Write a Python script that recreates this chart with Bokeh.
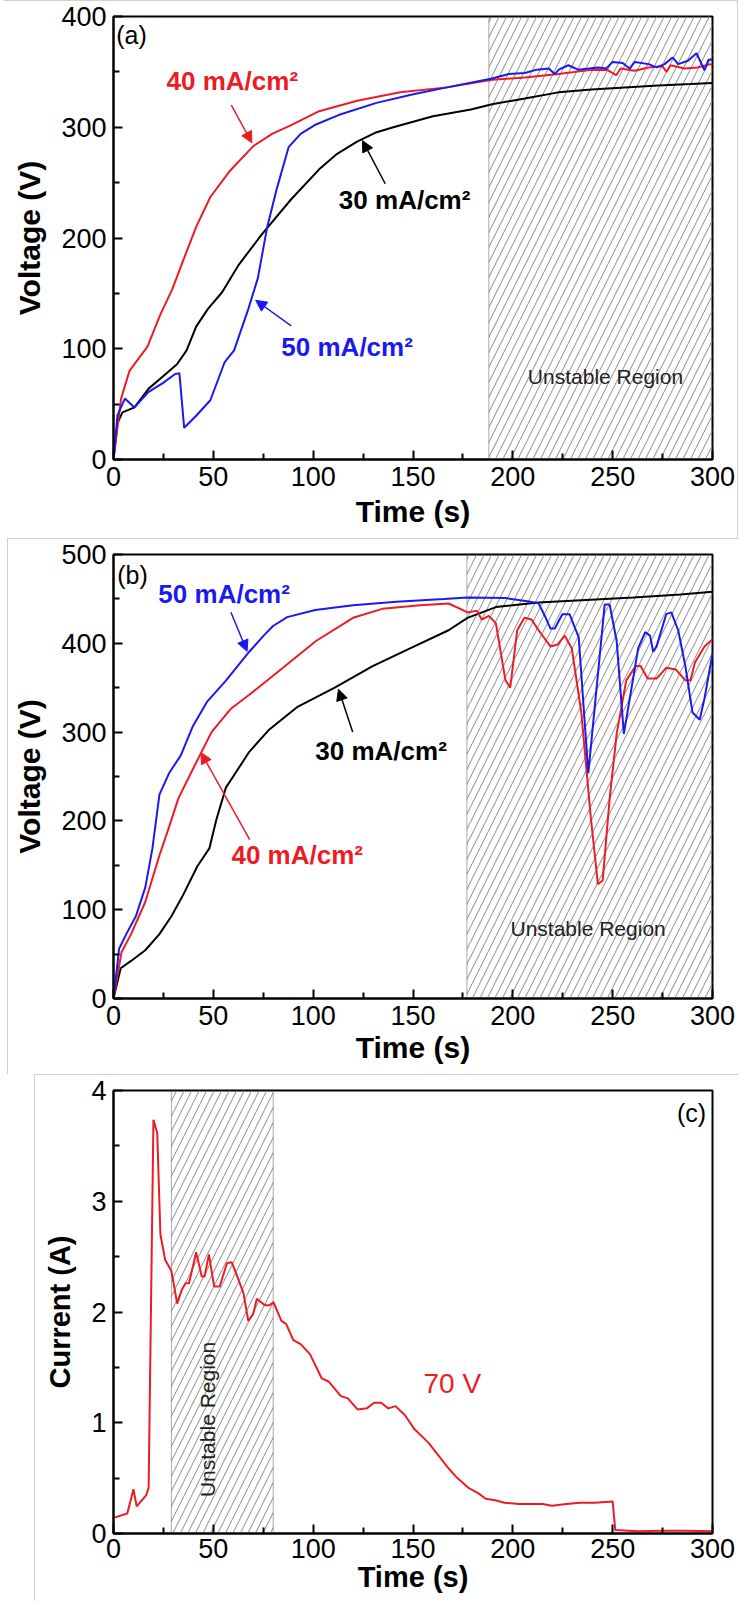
from bokeh.plotting import figure
from bokeh.models import Range1d, FixedTicker, BoxAnnotation, Arrow, NormalHead, Label, Span
from bokeh.layouts import column
from bokeh.embed import file_html
from bokeh.resources import INLINE

# ---------------- data: panel (a) ----------------
a_t_40 = [0, 3.8, 8, 17, 23.5, 29.5, 35.4, 41.4, 48.5, 58, 70, 79.4, 89, 103, 122, 143.6, 167, 189.6,
          206, 222.8, 239.4, 247, 251.8, 254, 261, 268, 275, 277, 279, 286, 292.5, 299, 300]
a_v_40 = [0, 55, 80, 102, 131, 154, 182, 210, 237, 260, 283, 294, 302, 314.5, 324, 331.6, 336, 342.8,
          345, 348, 351.8, 352, 347, 353, 351, 354, 355, 350, 356, 353, 354, 357, 356]
a_t_50 = [0, 2, 5.7, 10.5, 17.6, 24.7, 30.7, 33, 35.4, 41.4, 48.5, 55.6, 60.4, 67.5, 72.3, 77, 81.8,
          87.7, 93.7, 100.8, 112.7, 131.7, 150.7, 167, 189.6, 198, 206, 212, 218, 221, 223, 227.8,
          232.7, 242.7, 246.8, 250, 255, 258.5, 261, 268, 272, 276, 280, 282.8, 287.7, 292, 296, 298, 300]
a_v_50 = [0, 40, 55, 47, 61, 69, 77, 78, 28.6, 39.5, 53.5, 87.6, 98.5, 135.8, 163.8, 210, 244.6,
          282, 294, 302, 311, 322, 330, 336, 344, 348, 349, 352, 353, 348, 352, 356,
          352, 354, 353, 359, 358, 353, 359, 357, 354, 357, 363, 357, 360, 366.8, 351.5, 361, 361]
a_t_30 = [0, 2, 4.5, 10.5, 17.6, 24.7, 31.8, 36.6, 41.4, 47.3, 54.4, 62.8, 74.6, 89, 103, 112, 122,
          131, 141, 160, 179, 189.6, 206, 222.8, 239.4, 256, 272.6, 289, 300]
a_v_30 = [0, 33, 42.6, 47, 64, 75, 86, 98.5, 120, 136, 151, 176, 204, 235, 262, 276, 287,
          295, 300.5, 310, 316, 320.8, 326, 331.5, 334, 336, 337.6, 339, 340]

# ---------------- data: panel (b) ----------------
b_t_50 = [0, 2.8, 6.4, 11.2, 15.9, 19.5, 23, 27.8, 33.7, 39.6, 46.8, 56.3, 68, 75.2, 79.9, 87, 101,
          120, 141.7, 165.4, 177.3, 196.3, 208, 212.9, 216.5, 218.8, 221, 224.8, 228.4, 233, 237.8,
          246, 248.5, 252, 255.6, 262.8, 266.3, 268.7, 270.3, 272, 276.8, 279.4, 282.8, 286.4, 290,
          293.6, 296, 300]
b_v_50 = [0, 56, 72.5, 92.6, 124.8, 169, 229.5, 253.6, 273.8, 306, 334, 358, 390.5, 408.6, 419.5,
          429.5, 437.6, 442.8, 446.9, 450, 451.7, 451, 447, 445, 428.7, 416.7, 416.7, 432.8, 432.8,
          406.6, 253.6, 443.6, 443.6, 402.6, 298, 394.5, 412.6, 408.6, 390.5, 396.5, 432.8, 434.8,
          414.7, 374.4, 322, 314, 338, 388.5]
b_t_40 = [0, 4, 8.8, 15.9, 23, 27.8, 32.5, 39.6, 49.1, 58.6, 68, 82.4, 101.4, 120, 134.6, 153.6,
          167.8, 173.7, 177.3, 182, 184.4, 188, 191.5, 196.3, 198.7, 202.2, 205.8, 209.4, 212.9,
          218.8, 222.4, 226, 229.5, 234.3, 239, 242.6, 245, 248.5, 252, 256.8, 261.6, 264, 267.5,
          272, 276.8, 281.7, 286.4, 289, 291.2, 296, 300]
b_v_40 = [0, 52, 72.5, 108.7, 161, 193, 225.4, 257.6, 300, 326, 342, 368, 402.6, 428.7, 438.8, 442.8,
          444.8, 438.8, 434.8, 436.8, 426.7, 430.8, 422.7, 358.3, 350, 414.7, 428.7, 426.7, 414.7,
          396.5, 398.6, 408.6, 394.5, 322, 205, 128.8, 132.9, 225.4, 298, 358.3, 374.4, 374.4, 360.3,
          360.3, 372.4, 370.4, 358.3, 358.3, 378.4, 396.5, 404.6]
b_t_30 = [0, 3.6, 8.8, 15.9, 23, 29, 34.9, 42, 48, 51.5, 56.3, 61, 68, 77.6, 91.9, 110.8, 129.8,
          148.8, 167.8, 177.3, 191.5, 212.9, 236.6, 260.4, 284, 300]
b_v_30 = [0, 34, 42.3, 54.3, 72.5, 92.6, 116.7, 149, 169, 201.3, 237.5, 253.6, 277.8, 302, 328,
          350, 374.4, 394.5, 414.7, 428.7, 440.8, 446, 448.9, 451.7, 455, 458]

# ---------------- data: panel (c) ----------------
c_t = [0, 6.9, 10, 11.6, 16.4, 17.6, 20, 21.9, 23.5, 25.9, 29, 31.9, 34.2, 36.1, 37.8, 41.4, 44.2,
       45.6, 47.8, 50.4, 53.2, 56.8, 59.2, 61.6, 65.1, 67.5, 69.9, 71.8, 75.8, 78.2, 80.1, 84.1, 86.5,
       90.1, 93.7, 98.4, 104.3, 107.9, 113.9, 117.4, 122.2, 126.9, 130.5, 134, 137.6, 141.2, 145.9,
       150.7, 157.8, 167.3, 172.1, 178, 182.8, 186.4, 191.1, 195.9, 203, 214.9, 219.6, 226.8,
       233.9, 241, 250, 251.3, 262.4, 274.3, 286.2, 300]
c_i = [0.141, 0.18, 0.40, 0.245, 0.346, 0.415, 3.735, 3.616, 2.70, 2.47, 2.37, 2.075, 2.20, 2.26,
       2.26, 2.54, 2.32, 2.32, 2.52, 2.23, 2.23, 2.44, 2.45, 2.34, 2.17, 1.92, 1.98, 2.12, 2.06,
       2.06, 2.09, 1.92, 1.89, 1.745, 1.71, 1.62, 1.40, 1.37, 1.24, 1.22, 1.12, 1.13, 1.18, 1.18,
       1.13, 1.15, 1.07, 0.943, 0.818, 0.60, 0.503, 0.409, 0.362, 0.314, 0.30, 0.277, 0.267, 0.267,
       0.25, 0.267, 0.277, 0.277, 0.29, 0.031, 0.02, 0.025, 0.025, 0.02]

x_ticks = [0, 50, 100, 150, 200, 250, 300]
x_minor = [25, 75, 125, 175, 225, 275]

RED = "#ec1c24"
BLUE = "#1a1aee"
BLACK = "#000000"
FONT = "Liberation Sans"
GRAY_LINE = "#d0d0d0"


def frame_lines(lines):
    """CSS background lines (x, y, w, h) drawn behind the transparent figure border."""
    grads = ", ".join(["linear-gradient(%s,%s)" % (GRAY_LINE, GRAY_LINE)] * len(lines))
    sizes = ", ".join("%dpx %dpx" % (w, h) for (x, y, w, h) in lines)
    poss = ", ".join("%dpx %dpx" % (x, y) for (x, y, w, h) in lines)
    return {"background-image": grads, "background-size": sizes,
            "background-position": poss, "background-repeat": "no-repeat"}


def make_fig(height, ymax, yticks, yminor, borders, ylabel, xstand, ystand, title_size="30px"):
    l, r, t, b = borders
    p = figure(width=740, height=height, output_backend="svg", toolbar_location=None,
               x_range=Range1d(0, 300), y_range=Range1d(0, ymax), title=None,
               min_border_left=l, min_border_right=r, min_border_top=t, min_border_bottom=b)
    p.border_fill_color = None
    p.background_fill_color = "white"
    p.grid.visible = False
    p.outline_line_color = "black"
    p.outline_line_width = 2
    p.xaxis.ticker = FixedTicker(ticks=x_ticks, minor_ticks=x_minor)
    p.yaxis.ticker = FixedTicker(ticks=yticks, minor_ticks=yminor)
    p.xaxis.axis_label = "Time (s)"
    p.yaxis.axis_label = ylabel
    p.xaxis.axis_label_standoff = xstand
    p.yaxis.axis_label_standoff = ystand
    for ax in (p.xaxis[0], p.yaxis[0]):
        ax.axis_line_width = 2
        ax.major_tick_in = 9
        ax.major_tick_out = 0
        ax.minor_tick_in = 6
        ax.minor_tick_out = 0
        ax.major_tick_line_width = 2
        ax.minor_tick_line_width = 2
        ax.major_label_text_font = FONT
        ax.major_label_text_font_size = "27px"
        ax.major_label_text_color = "black"
        ax.major_label_standoff = 7
        ax.axis_label_text_font = FONT
        ax.axis_label_text_font_size = title_size
        ax.axis_label_text_font_style = "bold"
        ax.axis_label_text_color = "black"
    return p


def hatch(p, left, right):
    p.add_layout(BoxAnnotation(left=left, right=right, fill_color=None, line_color=None,
                               hatch_pattern="/", hatch_color="#8a8a8a", hatch_scale=15,
                               hatch_weight=1, level="underlay"))
    p.add_layout(Span(location=left, dimension="height", line_color="#555555",
                      line_dash="1 1", line_width=1, level="underlay"))


def label(p, x, y, text, size, color="black", bold=False, angle=0.0):
    p.add_layout(Label(x=x, y=y, text=text, text_font=FONT, text_font_size=size,
                       text_color=color, text_font_style="bold" if bold else "normal",
                       text_align="center", text_baseline="middle", angle=angle))


def arrow(p, x0, y0, x1, y1, color):
    p.add_layout(Arrow(x_start=x0, y_start=y0, x_end=x1, y_end=y1, line_color=color,
                       line_width=1.5,
                       end=NormalHead(size=11, fill_color=color, line_color=color, line_width=1)))


# ---------------- panel (a) ----------------
pa = make_fig(538, 400, [0, 100, 200, 300, 400], [50, 150, 250, 350], (109, 28, 16, 79),
              "Voltage (V)", 6, 12)
pa.styles = frame_lines([(4, 0, 734, 1), (737, 0, 1, 538)])
hatch(pa, 188, 300)
pa.line(a_t_30, a_v_30, line_color=BLACK, line_width=2)
pa.line(a_t_40, a_v_40, line_color=RED, line_width=2)
pa.line(a_t_50, a_v_50, line_color=BLUE, line_width=2)
label(pa, 9, 383, "(a)", "25px")
label(pa, 59.5, 342, "40 mA/cm²", "26px", RED, True)
arrow(pa, 59, 320, 69.3, 286, RED)
label(pa, 145.8, 234.7, "30 mA/cm²", "26px", BLACK, True)
arrow(pa, 136.1, 249, 124.7, 287.9, BLACK)
label(pa, 117, 101.7, "50 mA/cm²", "26px", BLUE, True)
arrow(pa, 89, 120.6, 71.2, 143.8, BLUE)
label(pa, 246.4, 74.6, "Unstable Region", "21px", "#222222")

# ---------------- panel (b) ----------------
pb = make_fig(536, 500, [0, 100, 200, 300, 400, 500], [50, 150, 250, 350, 450], (113, 24, 16, 76),
              "Voltage (V)", 3, 12)
pb.styles = frame_lines([(7, 0, 731, 1), (7, 0, 1, 536)])
hatch(pb, 177, 300)
pb.line(b_t_30, b_v_30, line_color=BLACK, line_width=2)
pb.line(b_t_40, b_v_40, line_color=RED, line_width=2)
pb.line(b_t_50, b_v_50, line_color=BLUE, line_width=2)
label(pb, 9.5, 477, "(b)", "25px")
label(pb, 55.4, 455, "50 mA/cm²", "26px", BLUE, True)
arrow(pb, 58.8, 435, 66.9, 391, BLUE)
label(pb, 134, 279, "30 mA/cm²", "26px", BLACK, True)
arrow(pb, 119.8, 300, 112.7, 348.3, BLACK)
label(pb, 92, 162, "40 mA/cm²", "26px", RED, True)
arrow(pb, 68.2, 179, 43.8, 277, RED)
label(pb, 237.7, 78.6, "Unstable Region", "21px", "#222222")

# ---------------- panel (c) ----------------
pc = make_fig(527, 4, [0, 1, 2, 3, 4], [0.5, 1.5, 2.5, 3.5], (109, 28, 16, 68),
              "Current (A)", 0, 12, "29px")
pc.styles = frame_lines([(34, 0, 704, 1), (34, 0, 1, 527)])
pc.xaxis.major_label_standoff = 5
hatch(pc, 29, 80)
pc.add_layout(Span(location=80, dimension="height", line_color="#555555",
                   line_dash="1 1", line_width=1, level="underlay"))
pc.line(c_t, c_i, line_color=RED, line_width=2)
label(pc, 289.5, 3.8, "(c)", "25px")
label(pc, 169.7, 1.35, "70 V", "28px", RED)
label(pc, 47.3, 1.03, "Unstable Region", "21px", "#222222", False, 1.5707963267948966)

layout = column(pa, pb, pc)
open("out.html", "w").write(file_html(layout, INLINE))
